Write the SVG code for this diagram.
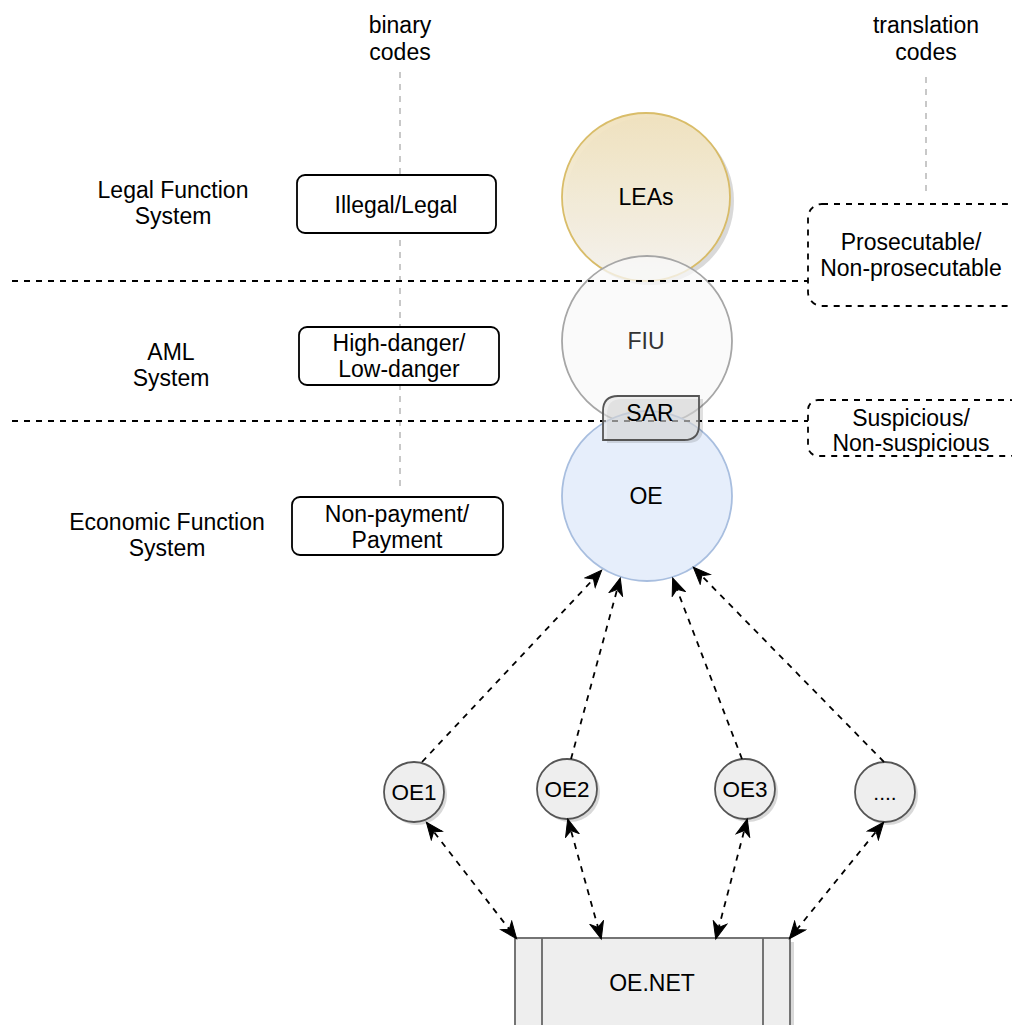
<svg xmlns="http://www.w3.org/2000/svg" width="1012" height="1025" viewBox="0 0 1012 1025">
<style>
text{font-family:"Liberation Sans",Arial,Helvetica,sans-serif;font-size:23px;fill:#000;text-anchor:middle;dominant-baseline:central}
.sep{stroke:#000;stroke-width:1.8;stroke-dasharray:6 6;fill:none}
.guide{stroke:#c8c8c8;stroke-width:2;stroke-dasharray:6 6;fill:none}
.box{fill:#fff;stroke:#000;stroke-width:1.8}
.dbox{fill:#fff;stroke:#000;stroke-width:1.8;stroke-dasharray:6 6}
.conn{stroke:#000;stroke-width:1.8;stroke-dasharray:6 6;fill:none}
.sh{fill:#000;opacity:0.15}
.small{fill:#eeeeee;stroke:#555;stroke-width:1.8}
.st{font-size:22.5px}
</style>
<defs>
<linearGradient id="gLea" x1="0" y1="0" x2="0" y2="1">
<stop offset="0" stop-color="#f1e2bd"/>
<stop offset="1" stop-color="#f6f4ef"/>
</linearGradient>
<marker id="ah" markerUnits="userSpaceOnUse" markerWidth="20" markerHeight="16" refX="17" refY="8" orient="auto-start-reverse">
<path d="M1,1 L18,8 L1,15 L6,8 Z" fill="#000" stroke="#000" stroke-width="1"/>
</marker>
</defs>
<rect width="1012" height="1025" fill="#fff"/>

<g id="guides">
<line class="guide" x1="400" y1="72" x2="400" y2="492"/>
<line class="guide" x1="926" y1="77" x2="926" y2="194"/>
</g>

<g id="labels">
<text x="400" y="25">binary</text>
<text x="400" y="52">codes</text>
<text x="926" y="25">translation</text>
<text x="926" y="52">codes</text>
<text x="173" y="190">Legal Function</text>
<text x="173" y="216">System</text>
<text x="171" y="352">AML</text>
<text x="171" y="378">System</text>
<text x="167" y="522">Economic Function</text>
<text x="167" y="548">System</text>
</g>

<g id="code-illegal">
<rect class="box" x="297" y="175" width="199" height="58" rx="8"/>
<text x="396" y="205">Illegal/Legal</text>
</g>
<g id="code-danger">
<rect class="box" x="299" y="327" width="200" height="58" rx="8"/>
<text x="399" y="343">High-danger/</text>
<text x="399" y="369">Low-danger</text>
</g>
<g id="code-payment">
<rect class="box" x="292" y="497" width="211" height="58" rx="8"/>
<text x="397" y="514">Non-payment/</text>
<text x="397" y="540">Payment</text>
</g>

<g id="lea">
<circle class="sh" cx="650" cy="201" r="84"/>
<circle cx="646" cy="197" r="84" fill="url(#gLea)" stroke="#d8ba62" stroke-width="1.8" opacity="0.95"/>
<text x="646" y="197">LEAs</text>
</g>
<g id="fiu">
<circle cx="647" cy="341" r="85" fill="#f8f8f8" fill-opacity="0.75" stroke="#a6a6a6" stroke-width="1.8"/>
<text x="646" y="341" style="fill:#333">FIU</text>
</g>
<g id="oe">
<circle cx="647" cy="496" r="85" fill="#e6eefb" stroke="#a8bedf" stroke-width="1.8"/>
<text x="646" y="496">OE</text>
</g>

<g id="separators">
<line class="sep" x1="12" y1="281" x2="808" y2="281"/>
<line class="sep" x1="12" y1="421" x2="808" y2="421"/>
</g>

<g id="translate-prosecutable">
<rect class="dbox" x="808" y="204" width="212" height="102" rx="14"/>
<text x="911" y="242">Prosecutable/</text>
<text x="911" y="268">Non-prosecutable</text>
</g>
<g id="translate-suspicious">
<rect class="dbox" x="808" y="400" width="212" height="56" rx="10"/>
<text x="911" y="418">Suspicious/</text>
<text x="911" y="443">Non-suspicious</text>
</g>

<g id="sar">
<path d="M607,443 L607,414 Q607,399 622,399 L703,399 L703,428 Q703,443 688,443 Z" fill="#000" opacity="0.12"/>
<path d="M603,440 L603,411 Q603,396 618,396 L699,396 L699,425 Q699,440 684,440 Z" fill="#e4e4e4" fill-opacity="0.6" stroke="#555" stroke-width="1.8"/>
<text x="650" y="413">SAR</text>
</g>

<g id="oe1">
<circle class="sh" cx="417" cy="795" r="30"/>
<circle class="small" cx="414" cy="792" r="30"/>
<text class="st" x="414" y="792">OE1</text>
</g>
<g id="oe2">
<circle class="sh" cx="570" cy="792" r="30"/>
<circle class="small" cx="567" cy="789" r="30"/>
<text class="st" x="567" y="789">OE2</text>
</g>
<g id="oe3">
<circle class="sh" cx="748" cy="792" r="30"/>
<circle class="small" cx="745" cy="789" r="30"/>
<text class="st" x="745" y="789">OE3</text>
</g>
<g id="oe-more">
<circle class="sh" cx="888" cy="795" r="30"/>
<circle class="small" cx="885" cy="792" r="30"/>
<text x="885" y="792" style="font-size:21px">....</text>
</g>

<g id="oenet">
<rect class="sh" x="519" y="942" width="275" height="90"/>
<rect x="515" y="938" width="275" height="90" fill="#eeeeee" stroke="#666" stroke-width="1.8"/>
<line x1="542" y1="938" x2="542" y2="1028" stroke="#666" stroke-width="1.8"/>
<line x1="763" y1="938" x2="763" y2="1028" stroke="#666" stroke-width="1.8"/>
<text x="652" y="983">OE.NET</text>
</g>

<g id="connectors">
<line class="conn" x1="422" y1="762" x2="601" y2="571" marker-end="url(#ah)"/>
<line class="conn" x1="571" y1="759" x2="620" y2="579" marker-end="url(#ah)"/>
<line class="conn" x1="742" y1="759" x2="673" y2="579" marker-end="url(#ah)"/>
<line class="conn" x1="884" y1="762" x2="694" y2="568" marker-end="url(#ah)"/>
<line class="conn" x1="427" y1="823" x2="516" y2="938" marker-start="url(#ah)" marker-end="url(#ah)"/>
<line class="conn" x1="568" y1="820" x2="601" y2="938" marker-start="url(#ah)" marker-end="url(#ah)"/>
<line class="conn" x1="747" y1="820" x2="716" y2="938" marker-start="url(#ah)" marker-end="url(#ah)"/>
<line class="conn" x1="883" y1="823" x2="790" y2="938" marker-start="url(#ah)" marker-end="url(#ah)"/>
</g>
</svg>
